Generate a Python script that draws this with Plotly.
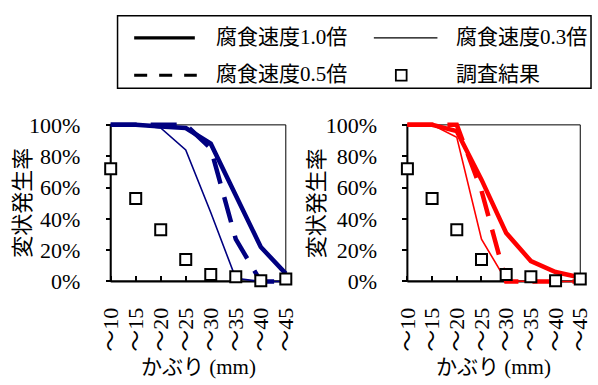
import plotly.graph_objects as go

W, H = 598, 385
FONT = "'Liberation Serif', 'Times New Roman', 'Noto Sans CJK JP', serif"
FS = 21
TICK_FS = 22

# ---- data -------------------------------------------------------------
cover_labels = ["～10", "～15", "～20", "～25", "～30", "～35", "～40", "～45"]
cover_idx = list(range(len(cover_labels)))
pct_ticks = [0, 20, 40, 60, 80, 100]

# survey results (same in both panels), %
survey = [72, 53, 33, 14, 4.5, 3, 0.5, 1.5]

# left panel, deformation rate (%) by corrosion-rate factor
left_r10 = [100, 100, 99, 98, 88, 55, 22, 5]
left_r05 = [100, 100, 100, 100, 85, 27, 0, 0]
left_r03 = [100, 100, 98, 84, 44, 2, 0, 0]

# right panel
right_r10 = [100, 100, 96, 65, 31, 13, 6, 2.5]
right_r05 = [100, 100, 100, 58, 0, 0, 0, 0]
right_r03 = [100, 100, 92, 27, 0.5, 0, 0, 0]

name_r10 = "腐食速度1.0倍"
name_r03 = "腐食速度0.3倍"
name_r05 = "腐食速度0.5倍"
name_survey = "調査結果"
y_title = "変状発生率"
x_title = "かぶり (mm)"


# ---- layout helpers (pixel -> paper) ----------------------------------
def fx(p):
    return p / W


def fy(p):
    return 1 - p / H


Y0_PX, Y100_PX = 284.3, 122.7   # plot box bottom / top
PAD_X, PAD_Y = 0.25, 4          # small overscan so end lines are not clipped

panels = [
    dict(x0=106.0, x7=285.0, color="#000080",
         r10=left_r10, r05=left_r05, r03=left_r03, ytx=15, xtx=195.5),
    dict(x0=409.3, x7=586.0, color="#FF0000",
         r10=right_r10, r05=right_r05, r03=right_r03, ytx=316, xtx=497.6),
]

fig = go.Figure()
layout = dict(
    width=W, height=H,
    margin=dict(l=0, r=0, t=0, b=0),
    paper_bgcolor="white", plot_bgcolor="rgba(0,0,0,0)",
    showlegend=False,
    font=dict(family=FONT, size=FS, color="black"),
)
shapes, annotations = [], []

uy = (Y0_PX - Y100_PX) / 100.0
for i, p in enumerate(panels):
    sfx = "" if i == 0 else str(i + 1)
    xa, ya = "x" + sfx, "y" + sfx
    ux = (p["x7"] - p["x0"]) / 7.0

    layout["xaxis" + sfx] = dict(
        domain=[fx(p["x0"] - PAD_X * ux), fx(p["x7"] + PAD_X * ux)],
        range=[-PAD_X, 7 + PAD_X],
        anchor="free", position=fy(Y0_PX),
        tickmode="array", tickvals=cover_idx, ticktext=cover_labels,
        tickangle=-90, ticks="inside", ticklen=5, tickwidth=1.5,
        tickcolor="black", ticklabelstandoff=21,
        showline=False, showgrid=False, zeroline=False,
        tickfont=dict(family=FONT, size=TICK_FS, color="black"),
        layer="below traces",
    )
    layout["yaxis" + sfx] = dict(
        domain=[fy(Y0_PX + PAD_Y * uy), fy(Y100_PX - PAD_Y * uy)],
        range=[-PAD_Y, 100 + PAD_Y],
        anchor="free", position=fx(p["x0"]),
        tickmode="array", tickvals=pct_ticks,
        ticktext=[f"{v}%" for v in pct_ticks],
        ticks="outside", ticklen=5, tickwidth=1.5, tickcolor="black",
        ticklabelstandoff=21,
        showline=False, showgrid=False, zeroline=False,
        tickfont=dict(family=FONT, size=TICK_FS, color="black"),
        layer="below traces",
    )

    # plot box: thin frame, heavier left/bottom axis lines
    shapes.append(dict(type="rect", xref=xa, yref=ya, x0=0, x1=7, y0=0, y1=100,
                       line=dict(color="black", width=1), layer="below"))
    shapes.append(dict(type="line", xref=xa, yref=ya, x0=0, x1=0, y0=0, y1=100,
                       line=dict(color="black", width=2), layer="below"))
    shapes.append(dict(type="line", xref=xa, yref=ya, x0=0, x1=7, y0=0, y1=0,
                       line=dict(color="black", width=2.2), layer="below"))

    c = p["color"]
    fig.add_trace(go.Scatter(x=cover_idx, y=p["r03"], mode="lines", name=name_r03,
                             line=dict(color=c, width=1.6), xaxis=xa, yaxis=ya,
                             cliponaxis=False))
    fig.add_trace(go.Scatter(x=cover_idx, y=p["r05"], mode="lines", name=name_r05,
                             line=dict(color=c, width=4.5, dash="26px,14px"),
                             xaxis=xa, yaxis=ya, cliponaxis=False))
    fig.add_trace(go.Scatter(x=cover_idx, y=p["r10"], mode="lines", name=name_r10,
                             line=dict(color=c, width=4.5), xaxis=xa, yaxis=ya,
                             cliponaxis=False))
    fig.add_trace(go.Scatter(x=cover_idx, y=survey, mode="markers", name=name_survey,
                             marker=dict(symbol="square", size=11, color="white",
                                         line=dict(color="black", width=2)),
                             xaxis=xa, yaxis=ya, cliponaxis=False))

    annotations.append(dict(text=y_title, textangle=-90, xref="paper", yref="paper",
                            x=fx(p["ytx"]), y=fy(203.5), xanchor="center",
                            yanchor="middle", showarrow=False,
                            font=dict(family=FONT, size=22, color="black")))
    annotations.append(dict(text=x_title, xref="paper", yref="paper",
                            x=fx(p["xtx"]), y=fy(373), xanchor="center",
                            yanchor="middle", showarrow=False,
                            font=dict(family=FONT, size=FS, color="black")))

# ---- legend box -------------------------------------------------------
shapes.append(dict(type="rect", xref="paper", yref="paper",
                   x0=fx(113), x1=fx(597), y0=fy(85), y1=fy(10),
                   line=dict(color="black", width=1.5)))
row1, row2 = 33, 71.5
shapes.append(dict(type="line", xref="paper", yref="paper",
                   x0=fx(130), x1=fx(192), y0=fy(row1), y1=fy(row1),
                   line=dict(color="black", width=3.2)))
shapes.append(dict(type="line", xref="paper", yref="paper",
                   x0=fx(375), x1=fx(440), y0=fy(row1), y1=fy(row1),
                   line=dict(color="black", width=1.3)))
shapes.append(dict(type="line", xref="paper", yref="paper",
                   x0=fx(130), x1=fx(194), y0=fy(row2), y1=fy(row2),
                   line=dict(color="black", width=3.2, dash="13px,12px")))
shapes.append(dict(type="rect", xref="paper", yref="paper",
                   x0=fx(397.5), x1=fx(408.5), y0=fy(row2 + 5.5), y1=fy(row2 - 5.5),
                   line=dict(color="black", width=1.8), fillcolor="white"))

for txt, xp, yp in [(name_r10, 212, row1 - 1.5), (name_r03, 457, row1 - 1.5),
                    (name_r05, 212, row2 - 1.5), (name_survey, 457, row2 - 1.5)]:
    annotations.append(dict(text=txt, xref="paper", yref="paper",
                            x=fx(xp), y=fy(yp), xanchor="left", yanchor="middle",
                            showarrow=False,
                            font=dict(family=FONT, size=FS, color="black")))

layout["shapes"] = shapes
layout["annotations"] = annotations
fig.update_layout(**layout)
fig.write_html("out.html")
